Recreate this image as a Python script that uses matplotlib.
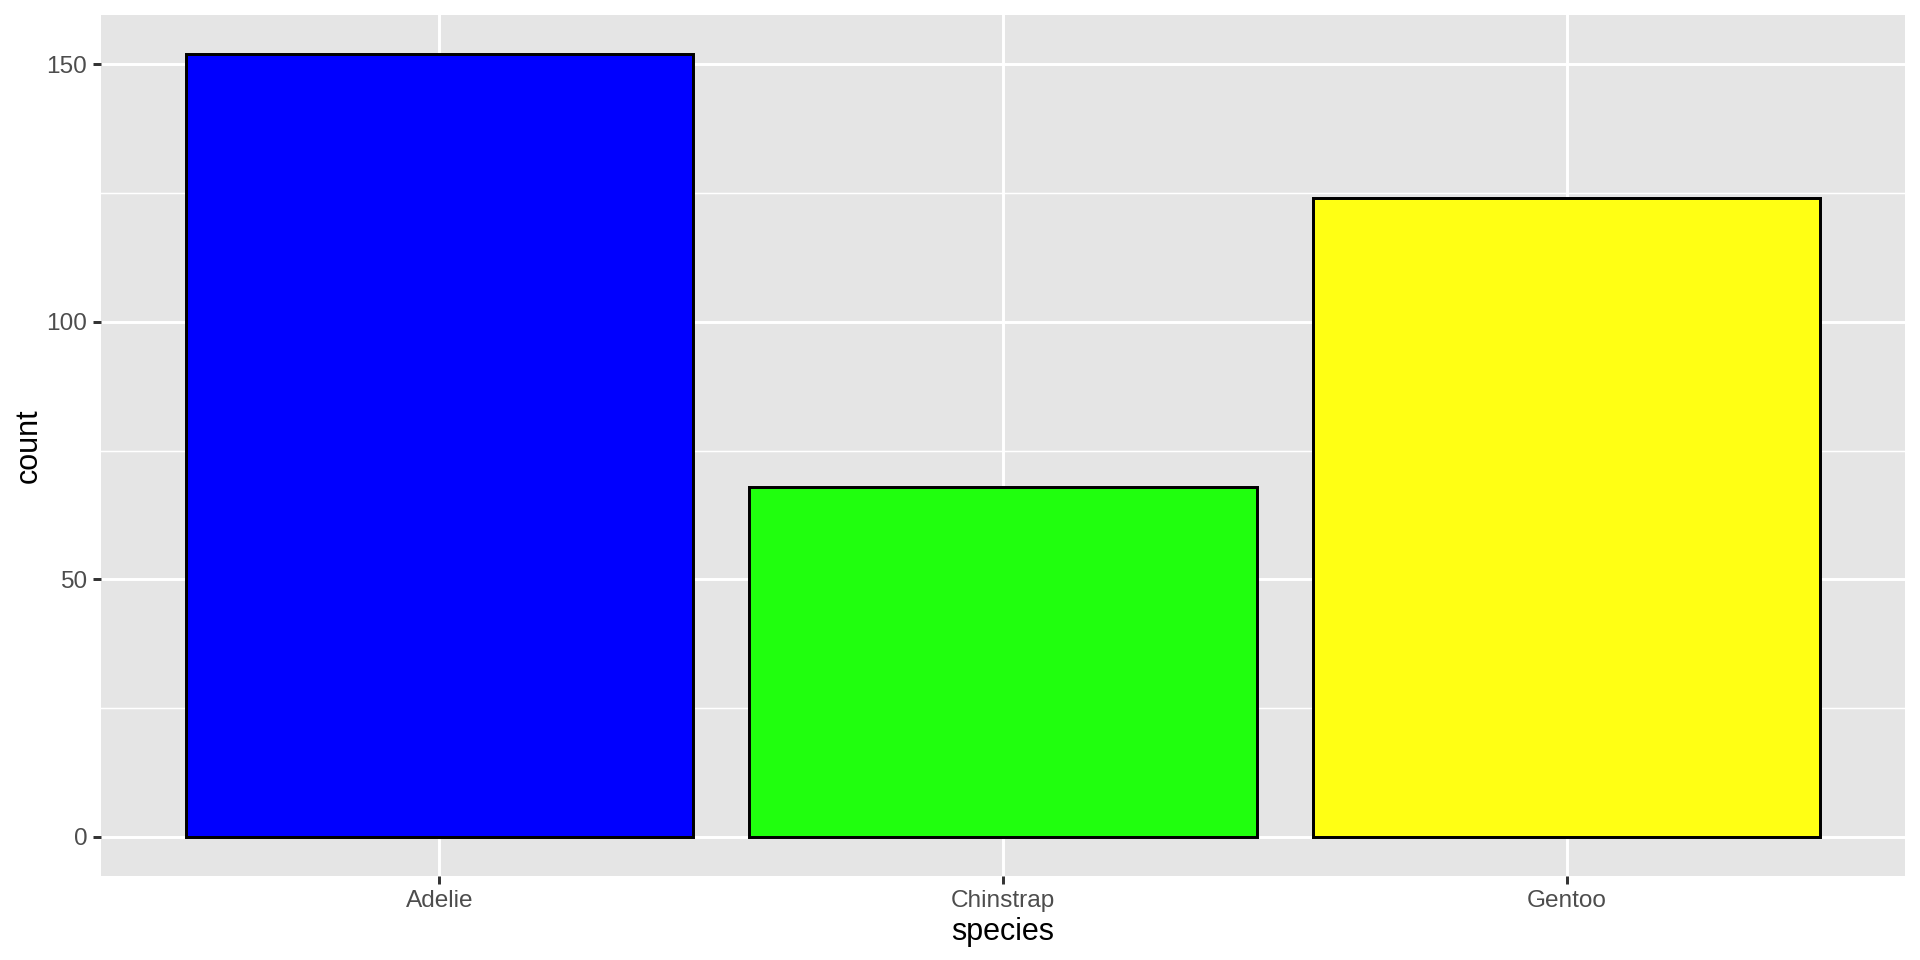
import matplotlib
matplotlib.use("Agg")
import matplotlib.pyplot as plt

species = ["Adelie", "Chinstrap", "Gentoo"]
counts = [152, 68, 124]
colors = ["#0000FF", "#20FF0E", "#FFFF14"]
y_ticks = [0, 50, 100, 150]
y_minor = [25, 75, 125]

plt.rcParams['font.family'] = ['Liberation Sans', 'DejaVu Sans']

fig = plt.figure(figsize=(9.6, 4.8), dpi=200)
ax = fig.add_axes([101/1920, (960-876)/960, 1804/1920, 861/960])
ax.set_facecolor("#E5E5E5")

x = list(range(1, len(species) + 1))
ax.bar(x, counts, width=0.9, color=colors, edgecolor="black", linewidth=1.07, zorder=3)

ax.set_xlim(0.4, 3.6)
ymax = max(counts)
ax.set_ylim(-0.05 * ymax, 1.05 * ymax)
ax.set_xticks(x)
ax.set_xticklabels(species)
ax.set_yticks(y_ticks)
ax.set_yticks(y_minor, minor=True)

ax.grid(which="major", color="white", linewidth=1.07, zorder=0)
ax.grid(which="minor", axis="y", color="white", linewidth=0.53, zorder=0)
ax.set_axisbelow(True)
for s in ax.spines.values():
    s.set_visible(False)

ax.tick_params(axis="both", which="major", length=2.75, width=1.07, color="#333333",
               labelcolor="#4D4D4D", labelsize=8.8, pad=2.2)
ax.tick_params(axis="both", which="minor", length=0)

ax.set_xlabel("species", fontsize=11, color="black", labelpad=2.0)
ax.set_ylabel("count", fontsize=11, color="black", labelpad=1.0)

fig.savefig("out.png", dpi=200, facecolor="white")
